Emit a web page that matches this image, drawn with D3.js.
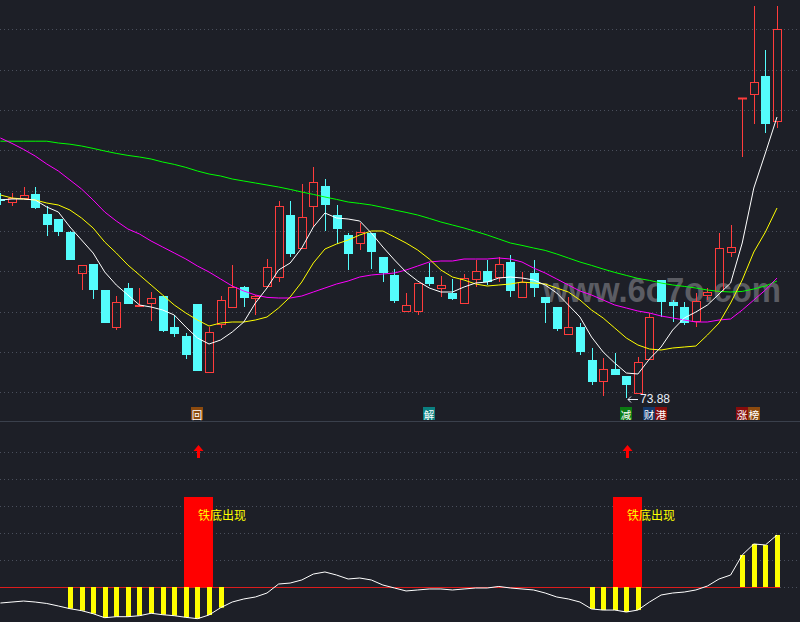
<!DOCTYPE html>
<html>
<head>
<meta charset="utf-8">
<script src="https://cdn.jsdelivr.net/npm/d3@7"></script>
<style>
html,body{margin:0;padding:0;background:#1d1f27;}
svg{display:block;}
</style>
</head>
<body>
<svg id="chart" width="800" height="622"></svg>
<script>
// ---------------- data ----------------
const openP = [83.81,83.70,83.87,84.08,83.08,82.83,82.18,80.15,80.58,79.28,
  77.45,79.38,78.46,78.62,78.98,77.43,76.98,78.58,75.17,77.57,
  78.42,79.43,78.87,79.46,79.92,83.03,81.40,83.47,84.48,83.03,
  82.03,81.62,82.13,80.92,80.03,78.25,78.25,79.92,79.37,79.13,
  78.62,79.82,80.22,79.92,80.70,78.95,80.12,78.92,78.42,77.07,
  77.42,75.78,74.75,75.33,74.98,74.15,75.82,79.78,78.67,78.42,
  77.73,79.03,79.23,81.17,88.90,89.07,89.97,87.72];
const highP = [84.13,84.12,84.45,84.45,83.48,82.83,82.23,80.52,80.58,79.28,
  78.98,79.63,79.38,79.18,78.98,78.02,77.12,78.58,77.45,78.98,
  80.53,79.50,79.03,80.83,83.73,83.73,84.58,85.43,84.83,83.53,
  82.13,82.65,82.13,80.92,80.32,79.12,79.62,80.62,79.98,79.83,
  80.07,80.78,80.78,80.95,81.03,80.20,80.78,78.92,78.42,78.95,
  77.62,76.37,75.87,76.12,74.98,75.95,78.12,79.78,78.78,78.70,
  79.12,79.37,82.15,82.53,88.90,93.48,91.28,93.48];
const lowP = [83.53,83.50,83.87,83.32,82.00,82.00,80.78,79.30,78.83,77.65,
  77.28,78.60,78.46,77.75,77.18,76.95,75.85,75.25,75.17,77.37,
  78.42,78.45,78.05,79.46,79.67,80.95,81.40,82.45,82.25,81.57,
  80.28,81.28,80.33,79.68,78.65,78.25,78.03,79.48,78.95,78.78,
  78.62,79.45,79.52,79.70,78.92,78.95,78.95,77.62,77.25,77.07,
  76.03,74.52,74.00,75.03,73.88,74.08,75.82,77.95,77.70,77.52,
  77.45,78.78,79.23,80.95,85.92,87.57,87.12,87.37];
const closeP = [83.71,83.87,84.03,83.40,82.55,82.20,80.78,80.52,79.30,77.65,
  78.67,78.60,78.53,78.87,77.25,77.10,76.05,75.25,77.17,78.77,
  79.42,78.90,78.98,80.42,83.47,81.10,82.92,84.67,83.55,82.33,
  81.10,82.18,81.20,80.12,78.75,78.52,79.62,79.58,79.52,78.85,
  79.87,80.22,79.68,80.57,79.25,79.70,79.40,78.62,77.35,77.42,
  76.20,74.70,75.32,75.03,74.55,75.70,77.92,78.70,78.50,77.62,
  78.72,79.18,81.37,81.42,88.90,89.67,87.60,92.32];

const ma5 = [83.78,83.83,83.83,83.78,83.43,83.18,82.43,81.78,81.13,80.18,
  79.53,79.03,78.53,78.43,78.28,78.03,77.43,76.88,76.58,76.78,
  77.18,77.68,78.63,79.38,80.28,80.63,81.38,82.43,83.13,82.88,
  82.83,82.73,82.13,81.43,80.78,80.18,79.73,79.38,79.18,79.18,
  79.43,79.63,79.68,79.88,79.93,79.88,79.78,79.53,79.13,78.53,
  77.93,76.93,76.18,75.63,75.13,75.08,75.83,76.43,77.28,77.88,
  78.18,78.53,79.08,79.63,81.63,84.38,86.13,87.93];
const ma10 = [84.03,83.88,83.83,83.78,83.63,83.53,83.28,82.88,82.38,81.68,
  81.13,80.53,80.03,79.53,79.03,78.53,78.13,77.78,77.48,77.63,
  77.68,77.68,77.78,77.93,78.38,78.93,79.68,80.63,81.33,81.58,
  81.78,82.03,82.23,82.23,81.93,81.63,81.28,80.83,80.28,79.93,
  79.78,79.58,79.48,79.53,79.58,79.68,79.63,79.58,79.38,79.18,
  78.78,78.28,77.88,77.38,76.88,76.53,76.33,76.28,76.38,76.43,
  76.48,77.03,77.63,78.63,79.78,81.18,82.18,83.38];
const ma20 = [86.88,86.61,86.31,85.98,85.58,85.23,84.78,84.33,83.78,83.18,
  82.73,82.33,82.08,81.73,81.43,81.13,80.83,80.48,80.18,79.83,
  79.48,79.23,79.03,78.91,78.88,78.88,78.98,79.18,79.38,79.58,
  79.73,79.93,80.03,80.08,80.13,80.28,80.48,80.68,80.73,80.73,
  80.83,80.83,80.83,80.88,80.83,80.68,80.38,80.13,79.83,79.53,
  79.23,79.03,78.78,78.53,78.38,78.23,78.13,77.98,77.88,77.78,
  77.68,77.68,77.78,77.83,78.28,78.78,79.28,79.88];
const ma60 = [86.72,86.72,86.72,86.72,86.72,86.63,86.57,86.48,86.36,86.23,
  86.11,86.01,85.93,85.83,85.68,85.56,85.41,85.23,85.08,84.98,
  84.83,84.73,84.63,84.53,84.43,84.31,84.18,84.06,83.93,83.81,
  83.68,83.61,83.53,83.41,83.28,83.16,83.03,82.86,82.68,82.53,
  82.38,82.21,82.03,81.83,81.63,81.51,81.38,81.26,81.08,80.88,
  80.68,80.51,80.33,80.16,80.01,79.86,79.76,79.63,79.53,79.46,
  79.38,79.28,79.21,79.18,79.21,79.33,79.48,79.73];

// lower indicator
const indLine = [-17.8,-16.7,-15.6,-16.7,-18.3,-21.1,-24.1,-26.3,-29.7,-34.1,
  -33.0,-33.0,-31.9,-29.2,-30.8,-31.9,-33.7,-35.2,-31.1,-23.0,
  -16.7,-13.3,-11.1,-6.7,3.3,4.4,7.8,14.4,16.7,13.3,
  8.9,10.0,7.8,2.2,-1.1,-4.4,-3.3,-2.2,-2.2,-3.3,
  -2.2,-1.1,-1.1,0.6,-1.1,-2.2,-3.3,-6.7,-11.1,-13.3,
  -16.7,-24.4,-25.6,-25.6,-27.8,-25.6,-16.7,-8.9,-6.7,-5.6,
  -3.3,1.1,8.9,13.3,35.6,47.8,46.7,57.8];
const stickIdx = [6,7,8,9,10,11,12,13,14,15,16,17,18,19,51,52,53,54,55,64,65,66,67];
const signalIdx = [17, 54];
const signalValue = 100;
const signalText = "铁底出现";
const lowerTicks = [0, 30, 60, 90, 120, 150];

const lowLabelIdx = 54;
const lowLabelText = "73.88";
const markers = [
  {idx: 17, text: "回", bgs: ["#8c4a0e"]},
  {idx: 37, text: "解", bgs: ["#0b7f80"]},
  {idx: 54, text: "减", bgs: ["#0b7a12"]},
  {idx: 56, text: "财港", bgs: ["#14386a", "#860c0c"]},
  {idx: 64, text: "涨榜", bgs: ["#860c0c", "#8c4a0e"]}
];
const watermarkText = "www.6o7o.com";

// ---------------- layout ----------------
const W = 800, H = 622;
const mainBottom = 421;
const mainGridTop = 29.3, mainGridStep = 40.33, mainGridCount = 10;
const COLORS = {
  bg: "#1d1f27", grid: "#4a4f5c", sep: "#3a404c",
  up: "#ff3c3c", down: "#54fcfc",
  ma5: "#ffffff", ma10: "#ffff00", ma20: "#ff00ff", ma60: "#00ff00"
};

const n = openP.length;
const x = d3.scaleLinear().domain([0, n - 1]).range([0.4, 777]);
const y = d3.scaleLinear().domain([73.78, 93.78]).range([400, 0]);
const yi = d3.scaleLinear().domain([0, 100]).range([587, 497]);
const cx = i => Math.round(x(i));

const svg = d3.select("#chart");
svg.append("rect").attr("width", W).attr("height", H).attr("fill", COLORS.bg);

// grid (main)
const gGrid = svg.append("g");
for (let k = 0; k < mainGridCount; k++) {
  const gy = Math.round(mainGridTop + k * mainGridStep) + 0.5;
  gGrid.append("line").attr("x1", 0).attr("x2", W).attr("y1", gy).attr("y2", gy)
    .attr("stroke", COLORS.grid).attr("stroke-dasharray", "1,3");
}
// grid (lower)
lowerTicks.forEach(v => {
  const gy = Math.round(yi(v)) + 0.5;
  gGrid.append("line").attr("x1", 0).attr("x2", W).attr("y1", gy).attr("y2", gy)
    .attr("stroke", COLORS.grid).attr("stroke-dasharray", "1,3");
});
// separator
svg.append("line").attr("x1", 0).attr("x2", W).attr("y1", mainBottom + 0.5).attr("y2", mainBottom + 0.5)
  .attr("stroke", COLORS.sep).attr("stroke-width", 1);

// watermark
svg.append("text").attr("x", 543).attr("y", 302)
  .attr("font-family", "'Liberation Sans', Arial, sans-serif").attr("font-size", 35)
  .attr("font-weight", "bold")
  .attr("fill", "#5b5c63").attr("textLength", 238).attr("lengthAdjust", "spacingAndGlyphs")
  .text(watermarkText);

// candles
const gC = svg.append("g");
d3.range(n).forEach(i => {
  const o = openP[i], c = closeP[i], h = highP[i], l = lowP[i];
  const up = c >= o;
  const px = cx(i);
  const top = Math.round(y(Math.max(o, c)));
  const bot = Math.round(y(Math.min(o, c)));
  const yh = Math.round(y(h)), yl = Math.round(y(l));
  if (up) {
    const col = COLORS.up;
    if (yh < top) gC.append("line").attr("x1", px + 0.5).attr("x2", px + 0.5).attr("y1", yh).attr("y2", top).attr("stroke", col);
    if (yl > bot) gC.append("line").attr("x1", px + 0.5).attr("x2", px + 0.5).attr("y1", bot).attr("y2", yl).attr("stroke", col);
    if (bot - top < 1) {
      gC.append("rect").attr("x", px - 4).attr("y", top - 0.5).attr("width", 9).attr("height", 2).attr("fill", col);
    } else {
      gC.append("rect").attr("x", px - 3.5).attr("y", top + 0.5).attr("width", 8).attr("height", bot - top)
        .attr("fill", "none").attr("stroke", col).attr("stroke-width", 1);
    }
  } else {
    const col = COLORS.down;
    gC.append("line").attr("x1", px + 0.5).attr("x2", px + 0.5).attr("y1", yh).attr("y2", yl).attr("stroke", col);
    gC.append("rect").attr("x", px - 4).attr("y", top).attr("width", 9).attr("height", Math.max(1, bot - top)).attr("fill", col);
  }
});

// moving averages
const line = d3.line().x((d, i) => x(i)).y(d => y(d));
[[ma60, COLORS.ma60], [ma20, COLORS.ma20], [ma10, COLORS.ma10], [ma5, COLORS.ma5]].forEach(([arr, col]) => {
  svg.append("path").attr("d", line(arr)).attr("fill", "none").attr("stroke", col).attr("stroke-width", 1);
});

// low label
{
  const px = cx(lowLabelIdx);
  const ly = Math.round(y(lowP[lowLabelIdx])) + 1.5;
  svg.append("path").attr("d", `M${px + 2},${ly} L${px + 12},${ly} M${px + 2},${ly} L${px + 5},${ly - 3} M${px + 2},${ly} L${px + 5},${ly + 3}`)
    .attr("stroke", "#e8eef8").attr("fill", "none").attr("stroke-width", 1);
  svg.append("text").attr("x", px + 14).attr("y", ly + 3.5)
    .attr("font-family", "'Liberation Sans', Arial, sans-serif").attr("font-size", 12)
    .attr("fill", "#e8eef8").text(lowLabelText);
}

// markers under candles
markers.forEach(m => {
  const px = cx(m.idx);
  const bx = px - 6;
  m.bgs.forEach((bg, k) => {
    svg.append("rect").attr("x", bx + 12 * k).attr("y", 407).attr("width", 12).attr("height", 13).attr("fill", bg);
  });
  svg.append("text").attr("x", bx + 0.75).attr("y", 418.5)
    .attr("font-family", "'Noto Sans CJK SC', sans-serif").attr("font-size", 10.5)
    .attr("letter-spacing", 1.5).attr("fill", "#ffffff").text(m.text);
});

// ---------------- lower panel ----------------
svg.append("line").attr("x1", 0).attr("x2", x(n - 1) + 3).attr("y1", Math.round(yi(0)) + 0.5).attr("y2", Math.round(yi(0)) + 0.5)
  .attr("stroke", "#dd1c1c").attr("stroke-width", 1);

signalIdx.forEach(i => {
  const px = cx(i);
  svg.append("rect").attr("x", px - 13).attr("y", yi(signalValue)).attr("width", 29)
    .attr("height", yi(0) - yi(signalValue)).attr("fill", "#ff0000");
  svg.append("path").attr("d", `M${px + 1.5},445 L${px + 6.5},451 L${px + 3},451 L${px + 3},458 L${px},458 L${px},451 L${px - 3.5},451 Z`)
    .attr("fill", "#ff0000");
});

stickIdx.forEach(i => {
  const px = cx(i);
  const v = indLine[i];
  const y0 = yi(0), y1 = yi(v);
  svg.append("rect").attr("x", px - 2).attr("y", Math.min(y0, y1)).attr("width", 5)
    .attr("height", Math.abs(y1 - y0)).attr("fill", "#ffff00");
});

signalIdx.forEach(i => {
  svg.append("text").attr("x", cx(i) + 1).attr("y", 520)
    .attr("font-family", "'Noto Sans CJK SC', sans-serif").attr("font-size", 12)
    .attr("fill", "#ffff00").text(signalText);
});

svg.append("path").attr("d", d3.line().x((d, i) => x(i)).y(d => yi(d))(indLine))
  .attr("fill", "none").attr("stroke", "#ffffff").attr("stroke-width", 1);
</script>
</body>
</html>
